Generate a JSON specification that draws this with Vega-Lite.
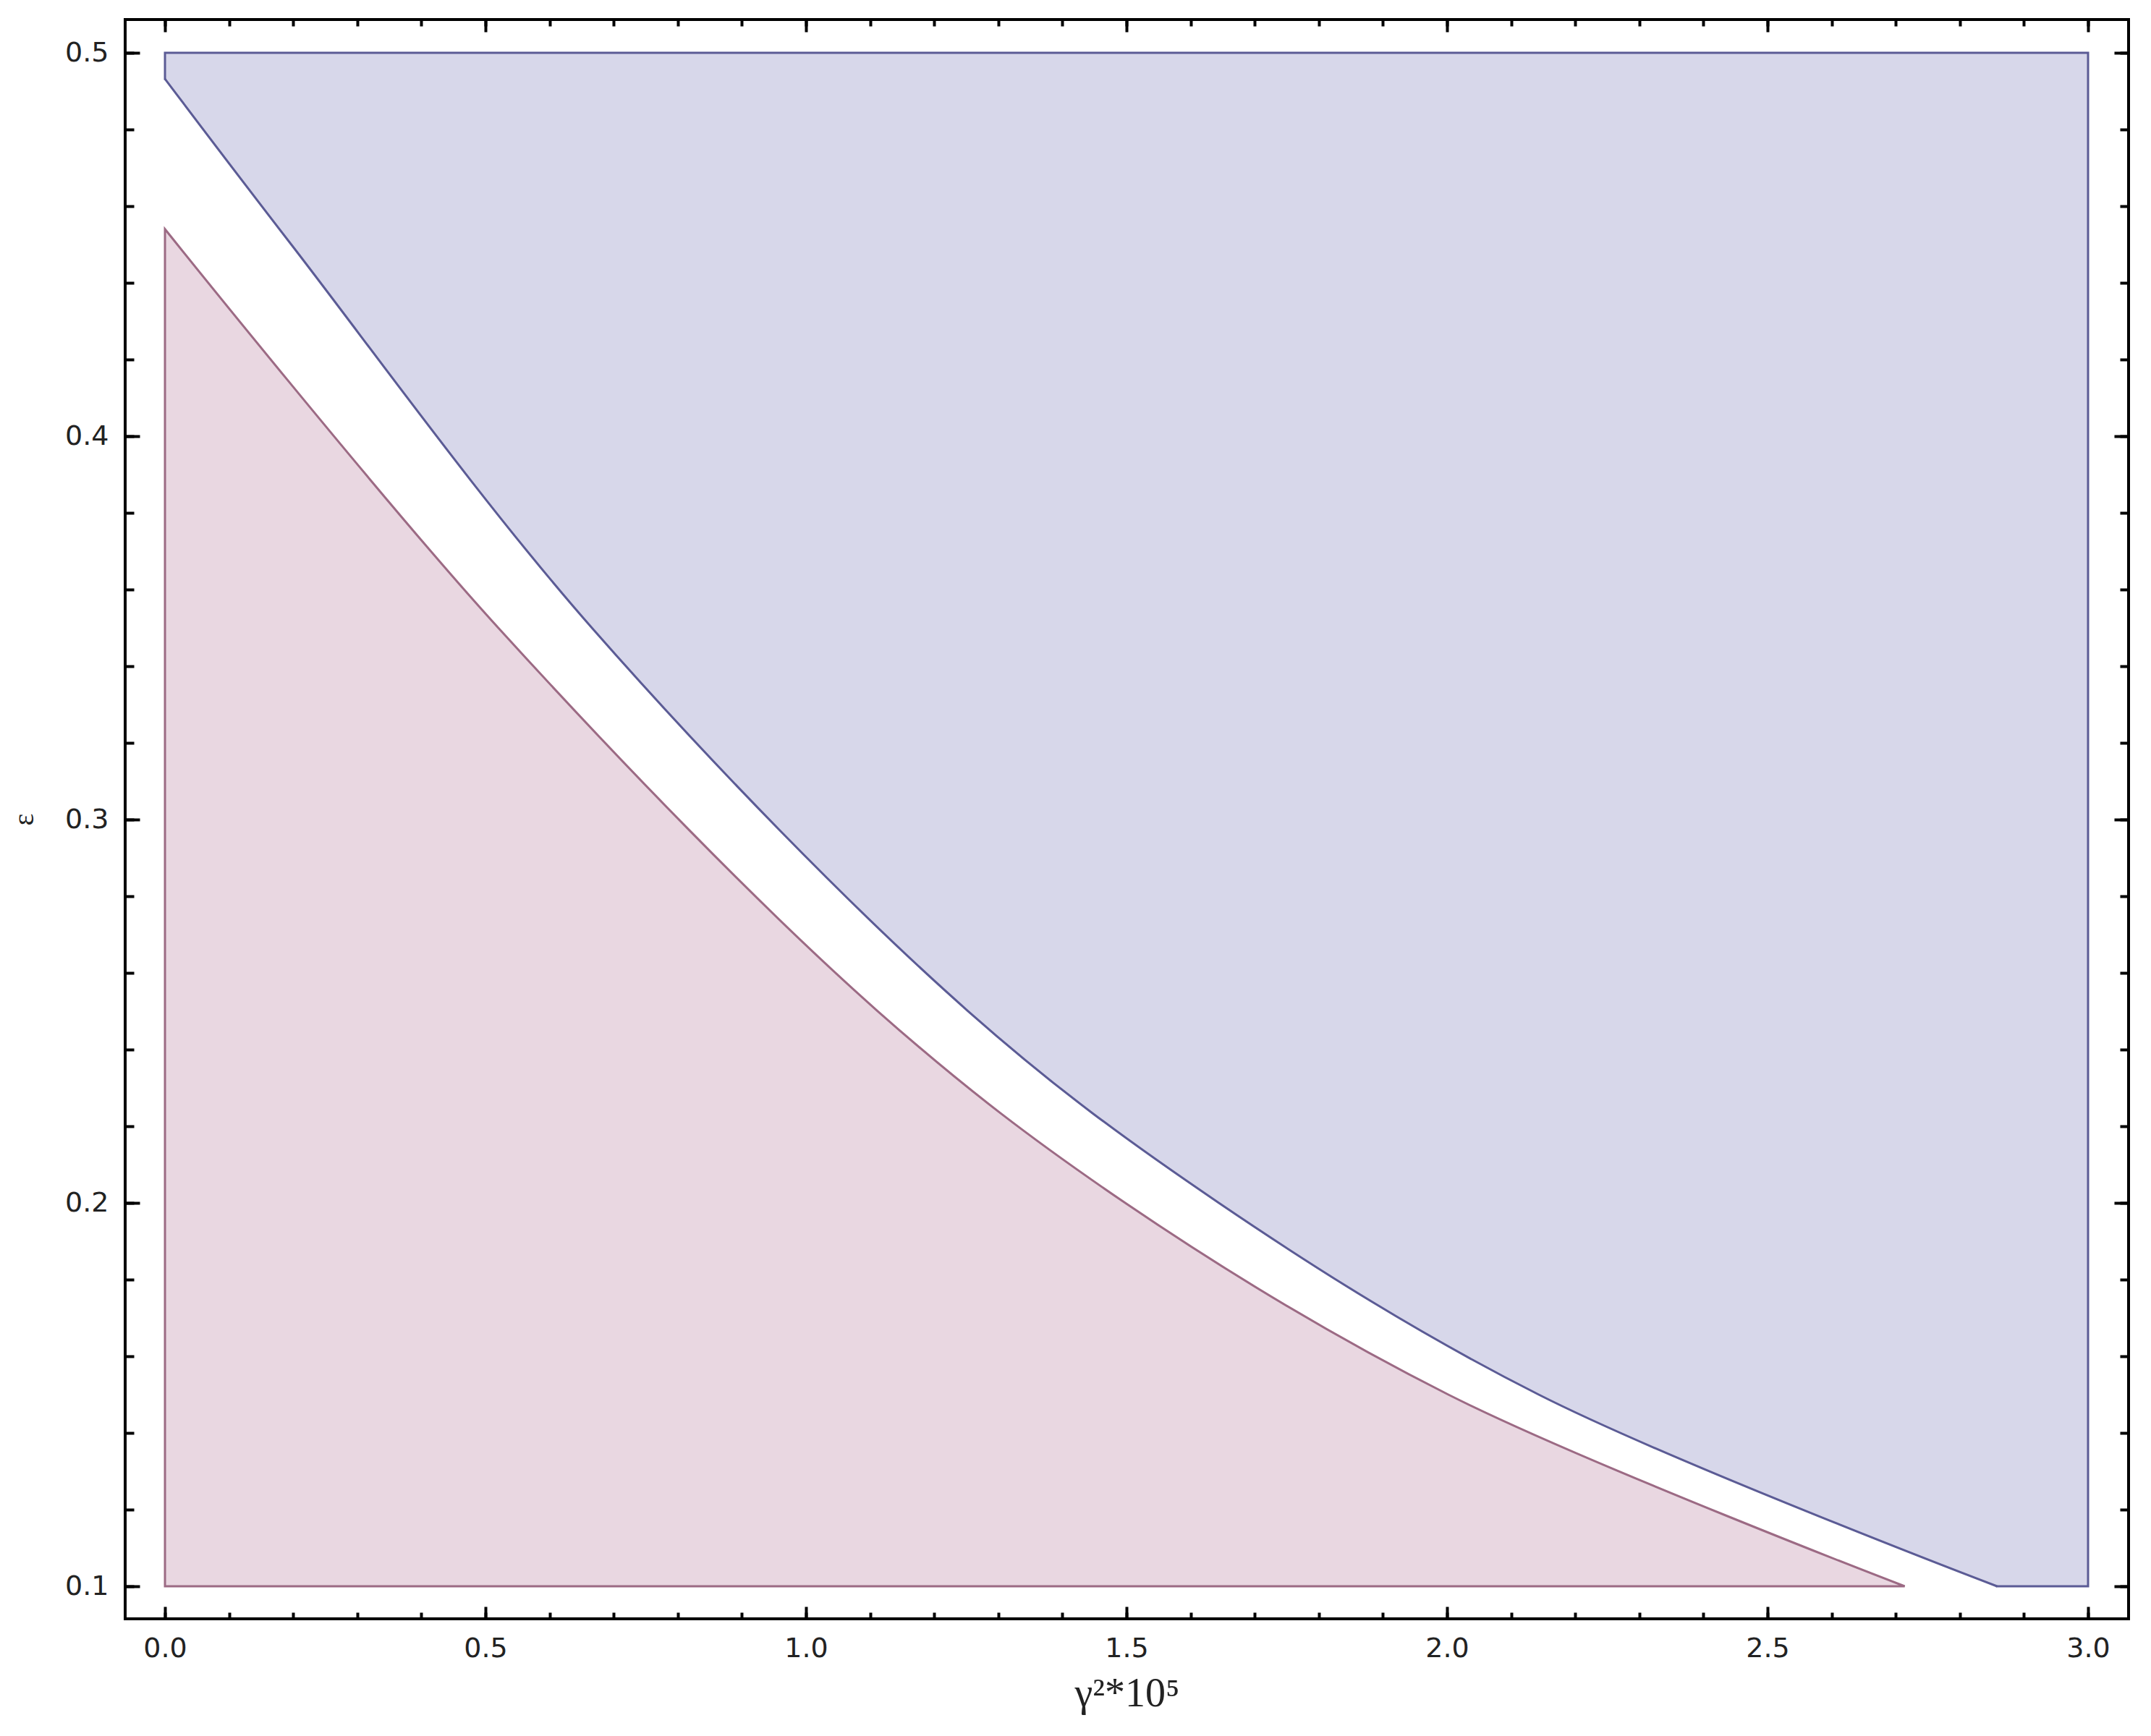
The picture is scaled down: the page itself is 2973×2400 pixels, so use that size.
{
  "$schema": "https://vega.github.io/schema/vega-lite/v6.json",
  "width": 2769,
  "height": 2211,
  "autosize": {"type": "none"},
  "padding": {"left": 173, "top": 27, "right": 31, "bottom": 162},
  "background": "white",
  "config": {
    "view": {"stroke": "black", "strokeWidth": 4},
    "axis": {
      "domain": false,
      "grid": false,
      "tickColor": "black",
      "tickWidth": 4,
      "labelFont": "DejaVu Sans",
      "labelFontSize": 38,
      "labelColor": "#222222",
      "labelFlush": false,
      "labelOverlap": false,
      "titleFont": "Liberation Serif",
      "titleFontWeight": "normal",
      "titleColor": "#222222"
    }
  },
  "datasets": {
    "red": [
      {"x": 0, "y": 0.454},
      {"x": 0.52, "y": 0.35},
      {"x": 1.112, "y": 0.25},
      {"x": 1.498, "y": 0.2},
      {"x": 2.002, "y": 0.15},
      {"x": 2.714, "y": 0.1}
    ],
    "blue": [
      {"x": 0, "y": 0.4932},
      {"x": 0.197, "y": 0.45},
      {"x": 0.666, "y": 0.35},
      {"x": 1.253, "y": 0.25},
      {"x": 1.644, "y": 0.2},
      {"x": 2.143, "y": 0.15},
      {"x": 2.858, "y": 0.1}
    ],
    "blueRect": [
      {"x": 2.858, "x2": 3.0, "y": 0.1, "y2": 0.5}
    ],
    "blueOutline": [
      {"x": 0, "y": 0.4932, "k": 0},
      {"x": 0, "y": 0.5, "k": 1},
      {"x": 3.0, "y": 0.5, "k": 2},
      {"x": 3.0, "y": 0.1, "k": 3},
      {"x": 2.858, "y": 0.1, "k": 4}
    ]
  },
  "resolve": {"axis": {"x": "independent", "y": "independent"}},
  "layer": [
    {
      "data": {"name": "red"},
      "mark": {"type": "area", "interpolate": "catmull-rom", "fill": "#e9d7e1", "stroke": "#9c6a84", "strokeWidth": 3},
      "encoding": {
        "x": {"field": "x", "type": "quantitative",
          "scale": {"domain": [-0.0621, 3.0632], "nice": false, "zero": false},
          "axis": {"orient": "bottom", "values": [0, 0.5, 1, 1.5, 2, 2.5, 3], "format": ".1f", "tickSize": -17, "labelPadding": 39,
            "title": "γ²*10⁵", "titleFontSize": 56, "titlePadding": 16}},
        "y": {"field": "y", "type": "quantitative",
          "scale": {"domain": [0.09151, 0.50868], "nice": false, "zero": false},
          "axis": {"orient": "left", "values": [0.1, 0.2, 0.3, 0.4, 0.5], "format": ".1f", "tickSize": -20, "labelPadding": 43,
            "title": "ε", "titleFontSize": 40, "titlePadding": 36}},
        "y2": {"datum": 0.1}
      }
    },
    {
      "data": {"name": "blue"},
      "mark": {"type": "area", "interpolate": "catmull-rom", "fill": "#d7d7ea", "strokeWidth": 0},
      "encoding": {
        "x": {"field": "x", "type": "quantitative",
          "axis": {"orient": "bottom", "values": [0, 0.1, 0.2, 0.3, 0.4, 0.5, 0.6, 0.7, 0.8, 0.9, 1, 1.1, 1.2, 1.3, 1.4, 1.5, 1.6, 1.7, 1.8, 1.9, 2, 2.1, 2.2, 2.3, 2.4, 2.5, 2.6, 2.7, 2.8, 2.9, 3], "tickSize": -9, "labels": false, "title": null}},
        "y": {"field": "y", "type": "quantitative",
          "axis": {"orient": "left", "values": [0.1, 0.12, 0.14, 0.16, 0.18, 0.2, 0.22, 0.24, 0.26, 0.28, 0.3, 0.32, 0.34, 0.36, 0.38, 0.4, 0.42, 0.44, 0.46, 0.48, 0.5], "tickSize": -12, "labels": false, "title": null}},
        "y2": {"datum": 0.5}
      }
    },
    {
      "data": {"name": "blueRect"},
      "mark": {"type": "rect", "fill": "#d7d7ea", "stroke": "#d7d7ea", "strokeWidth": 2},
      "encoding": {
        "x": {"field": "x", "type": "quantitative",
          "axis": {"orient": "top", "values": [0, 0.5, 1, 1.5, 2, 2.5, 3], "tickSize": -17, "labels": false, "title": null}},
        "x2": {"field": "x2"},
        "y": {"field": "y", "type": "quantitative",
          "axis": {"orient": "right", "values": [0.1, 0.2, 0.3, 0.4, 0.5], "tickSize": -20, "labels": false, "title": null}},
        "y2": {"field": "y2"}
      }
    },
    {
      "data": {"name": "blue"},
      "mark": {"type": "line", "interpolate": "catmull-rom", "stroke": "#5b5b95", "strokeWidth": 3},
      "encoding": {
        "x": {"field": "x", "type": "quantitative",
          "axis": {"orient": "top", "values": [0, 0.1, 0.2, 0.3, 0.4, 0.5, 0.6, 0.7, 0.8, 0.9, 1, 1.1, 1.2, 1.3, 1.4, 1.5, 1.6, 1.7, 1.8, 1.9, 2, 2.1, 2.2, 2.3, 2.4, 2.5, 2.6, 2.7, 2.8, 2.9, 3], "tickSize": -9, "labels": false, "title": null}},
        "y": {"field": "y", "type": "quantitative",
          "axis": {"orient": "right", "values": [0.1, 0.12, 0.14, 0.16, 0.18, 0.2, 0.22, 0.24, 0.26, 0.28, 0.3, 0.32, 0.34, 0.36, 0.38, 0.4, 0.42, 0.44, 0.46, 0.48, 0.5], "tickSize": -12, "labels": false, "title": null}}
      }
    },
    {
      "data": {"name": "blueOutline"},
      "mark": {"type": "line", "interpolate": "linear", "stroke": "#5b5b95", "strokeWidth": 3, "strokeCap": "square"},
      "encoding": {
        "x": {"field": "x", "type": "quantitative", "axis": null},
        "y": {"field": "y", "type": "quantitative", "axis": null},
        "order": {"field": "k", "type": "quantitative"}
      }
    }
  ]
}
